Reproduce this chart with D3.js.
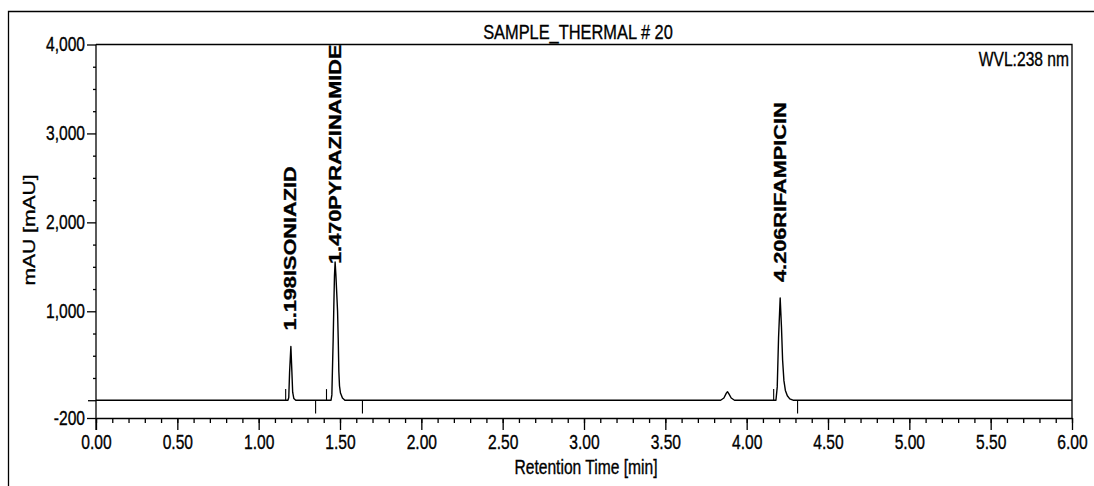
<!DOCTYPE html>
<html>
<head>
<meta charset="utf-8">
<script src="https://cdn.jsdelivr.net/npm/d3@7"></script>
<style>
  body { margin: 0; background: #fff; }
  svg { display: block; }
  text { font-family: "Liberation Sans", Arial, sans-serif; fill: #000; stroke: #000; stroke-width: 0.35px; }
</style>
</head>
<body>
<svg id="chart" width="1094" height="486"></svg>
<script>
// Chromatogram trace: retention time (min) and detector response (mAU)
const retentionTime = [
  0.000, 1.160, 1.180, 1.185, 1.190, 1.198, 1.204, 1.209, 1.216, 1.228,
  1.445, 1.450, 1.453, 1.458, 1.462, 1.466, 1.470, 1.475, 1.480, 1.485,
  1.489, 1.493, 1.497, 1.503, 1.515, 1.530,
  3.840, 3.860, 3.875, 3.882, 3.890, 3.905, 3.925,
  4.180, 4.188, 4.196, 4.206, 4.214, 4.221, 4.229, 4.238, 4.250, 4.265, 4.285,
  6.000
];
const absorbance = [
  0, 0, 0, 30, 310, 605, 330, 90, 20, 0,
  0, 60, 300, 680, 1050, 1400, 1555, 1400, 1200, 1000,
  700, 320, 160, 80, 25, 0,
  0, 25, 80, 95, 75, 25, 0,
  0, 150, 700, 1150, 820, 450, 220, 110, 50, 15, 0,
  0
];

// Named peaks
const peakTimes  = [1.198, 1.470, 4.206];
const peakNames  = ["ISONIAZID", "PYRAZINAMIDE", "RIFAMPICIN"];
const peakHeights = [605, 1555, 1150];

// Integration limits
const peakStarts = [1.166, 1.417, 4.166];
const peakEnds   = [1.350, 1.638, 4.313];

// Axes
const xTickValues = [0, 0.5, 1, 1.5, 2, 2.5, 3, 3.5, 4, 4.5, 5, 5.5, 6];
const xTickLabels = ["0.00", "0.50", "1.00", "1.50", "2.00", "2.50", "3.00",
                     "3.50", "4.00", "4.50", "5.00", "5.50", "6.00"];
const yTickValues = [-200, 1000, 2000, 3000, 4000];
const yTickLabels = ["-200", "1,000", "2,000", "3,000", "4,000"];

const chartTitle = "SAMPLE_THERMAL # 20";
const wavelength = "WVL:238 nm";
const xTitle = "Retention Time [min]";
const yTitle = "mAU [mAU]";

const svg = d3.select("#chart");
const plotLeft = 96, plotRight = 1072, plotTop = 44.5, plotBottom = 418;

const x = d3.scaleLinear().domain([0, 6]).range([plotLeft, plotRight]);
const y = d3.scaleLinear().domain([-200, 4000]).range([plotBottom, plotTop]);

// squeeze/stretch text along its writing direction
function fit(sel, k) {
  sel.each(function () {
    const w = this.getComputedTextLength();
    this.setAttribute("textLength", w * k);
    this.setAttribute("lengthAdjust", "spacingAndGlyphs");
  });
}
const NARROW = 0.78;

// outer frame
svg.append("path")
  .attr("d", "M1094,11.5H8.5V486")
  .attr("fill", "none").attr("stroke", "#000").attr("stroke-width", 1.3);

// plot frame top and right
svg.append("path")
  .attr("d", `M${plotLeft},${plotTop}H${plotRight}V${plotBottom}`)
  .attr("fill", "none").attr("stroke", "#000").attr("stroke-width", 1.3);

// x axis: minor then major ticks
const gxMinor = svg.append("g")
  .attr("transform", `translate(0,${plotBottom})`)
  .call(d3.axisBottom(x).tickValues(d3.range(0, 6.0001, 0.1)).tickSize(5).tickFormat(""));
gxMinor.select(".domain").remove();

const gx = svg.append("g")
  .attr("transform", `translate(0,${plotBottom})`)
  .call(d3.axisBottom(x).tickValues(xTickValues)
    .tickFormat((d, i) => xTickLabels[i]).tickSize(12).tickSizeOuter(0).tickPadding(5));
gx.selectAll("text").style("font-size", "20px");
fit(gx.selectAll("text"), NARROW);

// y axis: minor ticks every 250, zero tick, labelled majors
const yMinorVals = d3.range(250, 4000, 250).filter(v => !yTickValues.includes(v));
const gyMinor = svg.append("g")
  .attr("transform", `translate(${plotLeft},0)`)
  .call(d3.axisLeft(y).tickValues(yMinorVals).tickSize(3).tickFormat(""));
gyMinor.select(".domain").remove();

const gyZero = svg.append("g")
  .attr("transform", `translate(${plotLeft},0)`)
  .call(d3.axisLeft(y).tickValues([0]).tickSize(8).tickFormat(""));
gyZero.select(".domain").remove();

const gy = svg.append("g")
  .attr("transform", `translate(${plotLeft},0)`)
  .call(d3.axisLeft(y).tickValues(yTickValues)
    .tickFormat((d, i) => yTickLabels[i]).tickSize(9).tickSizeOuter(0).tickPadding(2));
gy.selectAll("text").style("font-size", "20px");
fit(gy.selectAll("text"), NARROW);
gy.select(".domain").attr("d", `M0,${plotTop}V${plotBottom + 12}`);
svg.selectAll(".tick line, .domain").attr("stroke", "#000").attr("stroke-width", 1.3);

// integration limit markers
svg.append("g").selectAll("line")
  .data(peakStarts).join("line")
  .attr("x1", d => x(d)).attr("x2", d => x(d))
  .attr("y1", y(0)).attr("y2", y(125))
  .attr("stroke", "#000").attr("stroke-width", 1.1);
svg.append("g").selectAll("line")
  .data(peakEnds).join("line")
  .attr("x1", d => x(d)).attr("x2", d => x(d))
  .attr("y1", y(0)).attr("y2", y(-150))
  .attr("stroke", "#000").attr("stroke-width", 1.1);

// trace
const trace = retentionTime.map((t, i) => [t, absorbance[i]]);
svg.append("path")
  .datum(trace)
  .attr("fill", "none")
  .attr("stroke", "#000")
  .attr("stroke-width", 1.4)
  .attr("stroke-linejoin", "round")
  .attr("d", d3.line().x(d => x(d[0])).y(d => y(d[1])));

// peak labels, rotated, clamped to the top of the plot
const STRETCH = 1.315;
peakTimes.forEach((t, i) => {
  const lbl = svg.append("text")
    .text(t.toFixed(3) + peakNames[i])
    .style("font-size", "16.5px")
    .style("font-weight", "bold");
  fit(lbl, STRETCH);
  const L = +lbl.attr("textLength");
  let y0 = y(peakHeights[i]) - 16;
  if (y0 - L < plotTop) y0 = plotTop + L;
  lbl.attr("transform", `translate(${x(t) + 5.5},${y0}) rotate(-90)`);
});

// titles
const title = svg.append("text")
  .attr("x", 578).attr("y", 39).attr("text-anchor", "middle")
  .style("font-size", "21px").text(chartTitle);
fit(title, NARROW);

const wvl = svg.append("text")
  .attr("x", 1069).attr("y", 66).attr("text-anchor", "end")
  .style("font-size", "20px").text(wavelength);
fit(wvl, NARROW);

const xt = svg.append("text")
  .attr("x", 586).attr("y", 474).attr("text-anchor", "middle")
  .style("font-size", "20px").text(xTitle);
fit(xt, NARROW);

const yt = svg.append("text")
  .attr("transform", "translate(35,230) rotate(-90)")
  .attr("text-anchor", "middle")
  .style("font-size", "16px").text(yTitle);
fit(yt, STRETCH);
</script>
</body>
</html>
